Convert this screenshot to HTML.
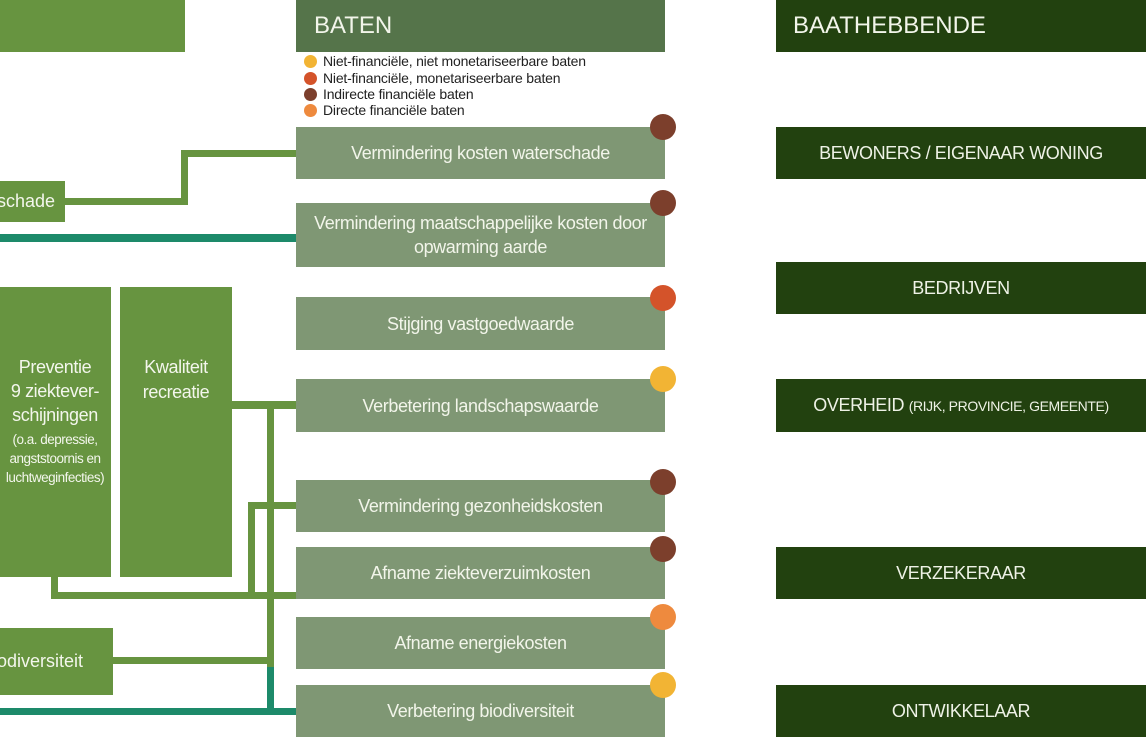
<!DOCTYPE html>
<html><head><meta charset="utf-8"><style>
body{margin:0;width:1146px;height:741px;background:#fff;position:relative;overflow:hidden;font-family:"Liberation Sans",sans-serif;}
.a{position:absolute}
.g{background:#679440;color:#f3f6ec}
.m{background:#7f9774;color:#f2f5ea;display:flex;align-items:center;justify-content:center;text-align:center;font-size:18px;line-height:24px;letter-spacing:-0.4px}
.r{background:#22410f;color:#eef2e6;display:flex;align-items:center;justify-content:center;font-size:18px;letter-spacing:-0.4px}
.l{background:#679440}
.t{background:#1d8a6a}
.d{position:absolute;width:26px;height:26px;border-radius:50%}
.lg{position:absolute;left:304px;font-size:14px;color:#222;line-height:16px;letter-spacing:-0.2px}
.lg i{display:inline-block;width:13px;height:13px;border-radius:50%;vertical-align:-2px;margin-right:6px}
</style></head><body>
<div class="a l" style="left:65px;top:198px;width:123px;height:7px"></div>
<div class="a l" style="left:181px;top:150px;width:7px;height:55px"></div>
<div class="a l" style="left:181px;top:150px;width:115px;height:7px"></div>
<div class="a t" style="left:0;top:234px;width:296px;height:8px"></div>
<div class="a l" style="left:232px;top:401px;width:64px;height:8px"></div>
<div class="a l" style="left:267px;top:401px;width:7px;height:266px"></div>
<div class="a t" style="left:267px;top:667px;width:7px;height:45px"></div>
<div class="a l" style="left:248px;top:502px;width:48px;height:7px"></div>
<div class="a l" style="left:248px;top:502px;width:7px;height:97px"></div>
<div class="a l" style="left:51px;top:577px;width:7px;height:22px"></div>
<div class="a l" style="left:51px;top:592px;width:245px;height:7px"></div>
<div class="a l" style="left:113px;top:657px;width:157px;height:7px"></div>
<div class="a t" style="left:0;top:708px;width:296px;height:7px"></div>
<div class="a g" style="left:0;top:0;width:185px;height:52px"></div>
<div class="a g" style="left:0;top:181px;width:65px;height:41px;font-size:18px;line-height:41px;text-indent:-3px">schade</div>
<div class="a g" style="left:0;top:287px;width:111px;height:290px;text-align:center;overflow:hidden">
<div style="position:absolute;left:-10px;width:130px;top:68px;font-size:18px;line-height:24px;letter-spacing:-0.4px">Preventie<br>9 ziektever-<br>schijningen</div>
<div style="position:absolute;left:-10px;width:130px;top:143px;font-size:13.5px;line-height:19px;letter-spacing:-0.5px">(o.a. depressie,<br>angststoornis en<br>luchtweginfecties)</div></div>
<div class="a g" style="left:120px;top:287px;width:112px;height:290px;text-align:center;font-size:18px;line-height:25px;letter-spacing:-0.4px"><div style="margin-top:68px">Kwaliteit<br>recreatie</div></div>
<div class="a g" style="left:0;top:628px;width:113px;height:67px;font-size:18px;line-height:67px;text-indent:-3px">odiversiteit</div>
<div class="a" style="left:296px;top:0;width:369px;height:52px;background:#55744a;color:#f2f5ea;font-size:24px;line-height:52px;text-indent:18px">BATEN</div>
<div class="lg" style="top:53px"><i style="background:#f2b434"></i>Niet-financiële, niet monetariseerbare baten</div>
<div class="lg" style="top:70px"><i style="background:#d4532a"></i>Niet-financiële, monetariseerbare baten</div>
<div class="lg" style="top:86px"><i style="background:#7c3f2c"></i>Indirecte financiële baten</div>
<div class="lg" style="top:102px"><i style="background:#ee8a3e"></i>Directe financiële baten</div>
<div class="a m" style="left:296px;top:127px;width:369px;height:52px">Vermindering kosten waterschade</div>
<div class="a m" style="left:296px;top:203px;width:369px;height:64px">Vermindering maatschappelijke kosten door<br>opwarming aarde</div>
<div class="a m" style="left:296px;top:297px;width:369px;height:53px">Stijging vastgoedwaarde</div>
<div class="a m" style="left:296px;top:379px;width:369px;height:53px">Verbetering landschapswaarde</div>
<div class="a m" style="left:296px;top:480px;width:369px;height:52px">Vermindering gezonheidskosten</div>
<div class="a m" style="left:296px;top:547px;width:369px;height:52px">Afname ziekteverzuimkosten</div>
<div class="a m" style="left:296px;top:617px;width:369px;height:52px">Afname energiekosten</div>
<div class="a m" style="left:296px;top:685px;width:369px;height:52px">Verbetering biodiversiteit</div>
<div class="d" style="left:650px;top:114px;background:#7c3f2c"></div>
<div class="d" style="left:650px;top:190px;background:#7c3f2c"></div>
<div class="d" style="left:650px;top:285px;background:#d4532a"></div>
<div class="d" style="left:650px;top:366px;background:#f2b434"></div>
<div class="d" style="left:650px;top:469px;background:#7c3f2c"></div>
<div class="d" style="left:650px;top:536px;background:#7c3f2c"></div>
<div class="d" style="left:650px;top:604px;background:#ee8a3e"></div>
<div class="d" style="left:650px;top:672px;background:#f2b434"></div>
<div class="a" style="left:776px;top:0;width:370px;height:52px;background:#22410f;color:#f2f5ea;font-size:24px;line-height:52px;text-indent:17px">BAATHEBBENDE</div>
<div class="a r" style="left:776px;top:127px;width:370px;height:52px">BEWONERS / EIGENAAR WONING</div>
<div class="a r" style="left:776px;top:262px;width:370px;height:52px">BEDRIJVEN</div>
<div class="a r" style="left:776px;top:379px;width:370px;height:53px">OVERHEID&nbsp;<span style="font-size:14px">(RIJK, PROVINCIE, GEMEENTE)</span></div>
<div class="a r" style="left:776px;top:547px;width:370px;height:52px">VERZEKERAAR</div>
<div class="a r" style="left:776px;top:685px;width:370px;height:52px">ONTWIKKELAAR</div>
</body></html>
